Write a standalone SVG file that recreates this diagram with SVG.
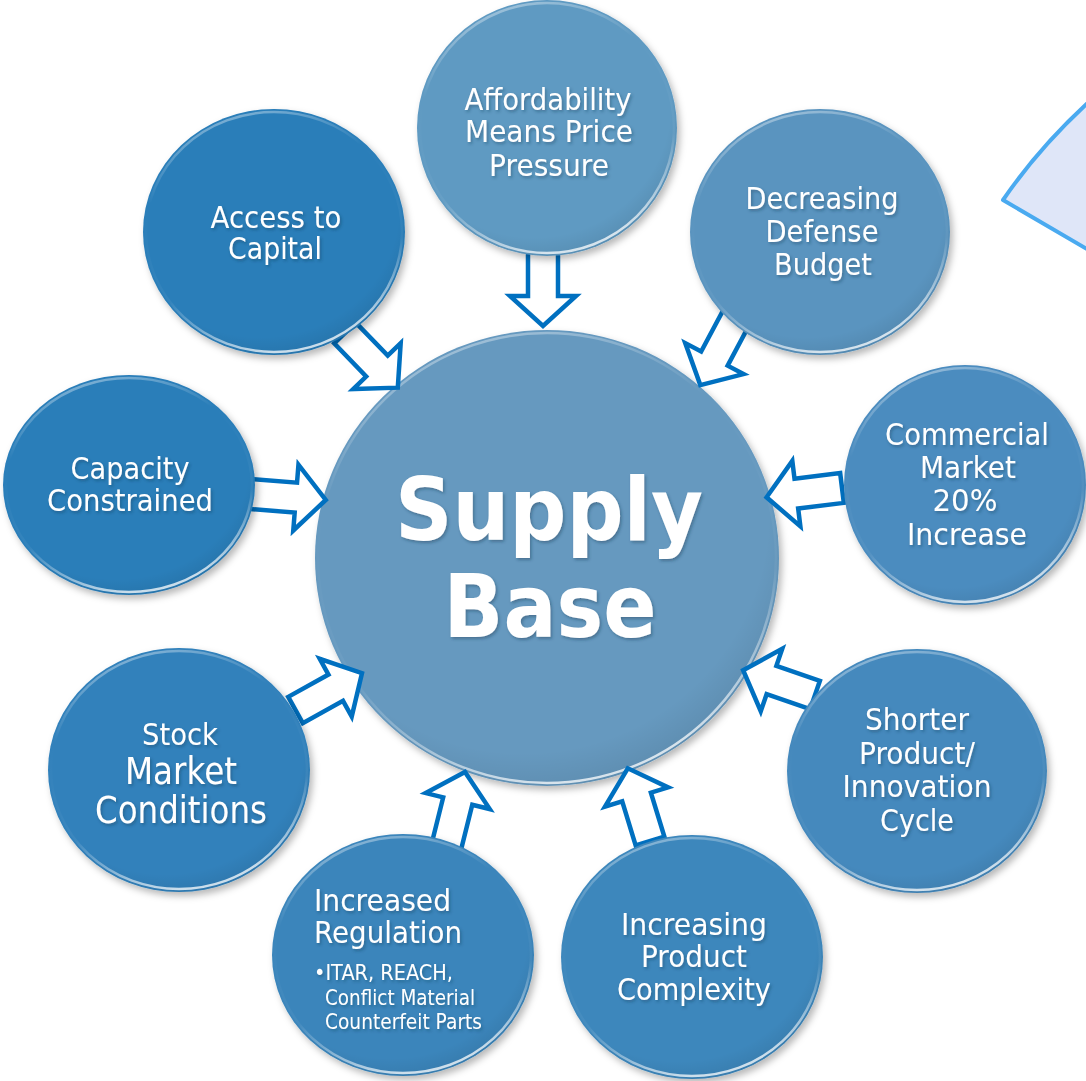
<svg xmlns="http://www.w3.org/2000/svg" width="1086" height="1081" viewBox="0 0 1086 1081">
<defs>
<style>
.lbl{font-family:"DejaVu Sans","Liberation Sans",sans-serif;fill:#ffffff;text-anchor:middle;filter:url(#ts)}
.lft{text-anchor:start}
.arrow{fill:#ffffff;stroke:#0070c0;stroke-width:4.5;stroke-linejoin:miter}
.rim{fill:none;stroke:url(#rimg);stroke-width:2.5}
</style>
<filter id="ds" x="-20%" y="-20%" width="140%" height="140%">
<feDropShadow dx="3" dy="4" stdDeviation="3.5" flood-color="#000" flood-opacity="0.28"/>
</filter>
<filter id="ts" x="-10%" y="-20%" width="120%" height="150%">
<feDropShadow dx="1.5" dy="2" stdDeviation="1.5" flood-color="#1a3550" flood-opacity="0.4"/>
</filter>
<linearGradient id="rimg" x1="0.2" y1="0" x2="0.5" y2="1">
<stop offset="0" stop-color="#ffffff" stop-opacity="0.45"/>
<stop offset="0.3" stop-color="#ffffff" stop-opacity="0"/>
<stop offset="0.7" stop-color="#ffffff" stop-opacity="0.05"/>
<stop offset="1" stop-color="#ffffff" stop-opacity="0.75"/>
</linearGradient>
<radialGradient id="shade" cx="0.45" cy="0.4" r="0.62">
<stop offset="0.85" stop-color="#000" stop-opacity="0"/>
<stop offset="1" stop-color="#000" stop-opacity="0.08"/>
</radialGradient>
<polygon id="arr" points="0,-15 46,-15 46,-33 76,0 46,33 46,15 0,15"/>
</defs>
<rect width="1086" height="1081" fill="#ffffff"/>

<path d="M1003,200 Q1040,146 1092,99 L1092,252 Z" fill="#dfe6f8" stroke="#4aaaf0" stroke-width="4" stroke-linejoin="round"/>

<g id="supply-base">
<ellipse cx="547" cy="558" rx="232" ry="228" fill="#6699bf" filter="url(#ds)"/>
<ellipse cx="547" cy="558" rx="232" ry="228" fill="url(#shade)"/>
<ellipse cx="547" cy="558" rx="229" ry="225" class="rim"/>
<text class="lbl" font-size="88" font-weight="bold"><tspan x="549" y="540" textLength="308" lengthAdjust="spacingAndGlyphs">Supply</tspan><tspan x="550" y="637" textLength="213" lengthAdjust="spacingAndGlyphs">Base</tspan></text>
</g>

<g id="connectors">
<use href="#arr" class="arrow" transform="translate(543,250) rotate(90)"/>
<use href="#arr" class="arrow" transform="translate(345,333) rotate(46)"/>
<use href="#arr" class="arrow" transform="translate(736,318) rotate(118)"/>
<use href="#arr" class="arrow" transform="translate(250,494) rotate(4.5)"/>
<use href="#arr" class="arrow" transform="translate(842,488) rotate(173)"/>
<use href="#arr" class="arrow" transform="translate(295.5,710) rotate(-29)"/>
<use href="#arr" class="arrow" transform="translate(815,695) rotate(199)"/>
<use href="#arr" class="arrow" transform="translate(446.6,845.7) rotate(-76)"/>
<use href="#arr" class="arrow" transform="translate(650,841) rotate(-107)"/>
</g>

<g id="affordability">
<ellipse cx="547" cy="128" rx="130" ry="128" fill="#5f9ac2" filter="url(#ds)"/>
<ellipse cx="547" cy="128" rx="130" ry="128" fill="url(#shade)"/>
<ellipse cx="547" cy="128" rx="127" ry="125" class="rim"/>
<text class="lbl" font-size="31"><tspan x="548" y="110" textLength="167" lengthAdjust="spacingAndGlyphs">Affordability</tspan><tspan x="549" y="142" textLength="168" lengthAdjust="spacingAndGlyphs">Means Price</tspan><tspan x="549" y="176" textLength="120" lengthAdjust="spacingAndGlyphs">Pressure</tspan></text>
</g>

<g id="access-to-capital">
<ellipse cx="274" cy="232" rx="131" ry="123" fill="#2a7eb9" filter="url(#ds)"/>
<ellipse cx="274" cy="232" rx="131" ry="123" fill="url(#shade)"/>
<ellipse cx="274" cy="232" rx="128" ry="120" class="rim"/>
<text class="lbl" font-size="31"><tspan x="276" y="228" textLength="131" lengthAdjust="spacingAndGlyphs">Access to</tspan><tspan x="275" y="259" textLength="94" lengthAdjust="spacingAndGlyphs">Capital</tspan></text>
</g>

<g id="decreasing-defense-budget">
<ellipse cx="820" cy="232" rx="130" ry="123" fill="#5a94bf" filter="url(#ds)"/>
<ellipse cx="820" cy="232" rx="130" ry="123" fill="url(#shade)"/>
<ellipse cx="820" cy="232" rx="127" ry="120" class="rim"/>
<text class="lbl" font-size="31"><tspan x="822" y="209" textLength="153" lengthAdjust="spacingAndGlyphs">Decreasing</tspan><tspan x="822" y="242" textLength="113" lengthAdjust="spacingAndGlyphs">Defense</tspan><tspan x="823" y="275" textLength="98" lengthAdjust="spacingAndGlyphs">Budget</tspan></text>
</g>

<g id="capacity-constrained">
<ellipse cx="129" cy="485" rx="126" ry="110" fill="#2b7eb9" filter="url(#ds)"/>
<ellipse cx="129" cy="485" rx="126" ry="110" fill="url(#shade)"/>
<ellipse cx="129" cy="485" rx="123" ry="107" class="rim"/>
<text class="lbl" font-size="31"><tspan x="130" y="479" textLength="119" lengthAdjust="spacingAndGlyphs">Capacity</tspan><tspan x="130" y="511" textLength="166" lengthAdjust="spacingAndGlyphs">Constrained</tspan></text>
</g>

<g id="commercial-market">
<ellipse cx="965" cy="485" rx="121" ry="120" fill="#4c8cbf" filter="url(#ds)"/>
<ellipse cx="965" cy="485" rx="121" ry="120" fill="url(#shade)"/>
<ellipse cx="965" cy="485" rx="118" ry="117" class="rim"/>
<text class="lbl" font-size="31"><tspan x="967" y="445" textLength="164" lengthAdjust="spacingAndGlyphs">Commercial</tspan><tspan x="968" y="478" textLength="96" lengthAdjust="spacingAndGlyphs">Market</tspan><tspan x="965" y="511" textLength="65" lengthAdjust="spacingAndGlyphs">20%</tspan><tspan x="967" y="545" textLength="120" lengthAdjust="spacingAndGlyphs">Increase</tspan></text>
</g>

<g id="stock-market-conditions">
<ellipse cx="179" cy="770" rx="131" ry="122" fill="#3181bb" filter="url(#ds)"/>
<ellipse cx="179" cy="770" rx="131" ry="122" fill="url(#shade)"/>
<ellipse cx="179" cy="770" rx="128" ry="119" class="rim"/>
<text class="lbl" font-size="31"><tspan x="180" y="745" textLength="76" lengthAdjust="spacingAndGlyphs">Stock</tspan></text>
<text class="lbl" font-size="37"><tspan x="181" y="784" textLength="112" lengthAdjust="spacingAndGlyphs">Market</tspan><tspan x="181" y="823" textLength="172" lengthAdjust="spacingAndGlyphs">Conditions</tspan></text>
</g>

<g id="shorter-product-cycle">
<ellipse cx="917" cy="771" rx="130" ry="122" fill="#4489bd" filter="url(#ds)"/>
<ellipse cx="917" cy="771" rx="130" ry="122" fill="url(#shade)"/>
<ellipse cx="917" cy="771" rx="127" ry="119" class="rim"/>
<text class="lbl" font-size="31"><tspan x="917" y="730" textLength="104" lengthAdjust="spacingAndGlyphs">Shorter</tspan><tspan x="917" y="764" textLength="116" lengthAdjust="spacingAndGlyphs">Product/</tspan><tspan x="917" y="797" textLength="149" lengthAdjust="spacingAndGlyphs">Innovation</tspan><tspan x="917" y="831" textLength="74" lengthAdjust="spacingAndGlyphs">Cycle</tspan></text>
</g>

<g id="increased-regulation">
<ellipse cx="403" cy="955" rx="131" ry="121" fill="#3a85bb" filter="url(#ds)"/>
<ellipse cx="403" cy="955" rx="131" ry="121" fill="url(#shade)"/>
<ellipse cx="403" cy="955" rx="128" ry="118" class="rim"/>
<text class="lbl lft" font-size="31"><tspan x="314" y="911" textLength="137" lengthAdjust="spacingAndGlyphs">Increased</tspan><tspan x="314" y="943" textLength="148" lengthAdjust="spacingAndGlyphs">Regulation</tspan></text>
<text class="lbl lft" font-size="21"><tspan x="314" y="980" textLength="139" lengthAdjust="spacingAndGlyphs">•ITAR, REACH,</tspan><tspan x="325" y="1005" textLength="150" lengthAdjust="spacingAndGlyphs">Conflict Material</tspan><tspan x="325" y="1029" textLength="157" lengthAdjust="spacingAndGlyphs">Counterfeit Parts</tspan></text>
</g>

<g id="increasing-product-complexity">
<ellipse cx="692" cy="957" rx="131" ry="122" fill="#3e87bc" filter="url(#ds)"/>
<ellipse cx="692" cy="957" rx="131" ry="122" fill="url(#shade)"/>
<ellipse cx="692" cy="957" rx="128" ry="119" class="rim"/>
<text class="lbl" font-size="31"><tspan x="694" y="935" textLength="146" lengthAdjust="spacingAndGlyphs">Increasing</tspan><tspan x="694" y="967" textLength="106" lengthAdjust="spacingAndGlyphs">Product</tspan><tspan x="694" y="1000" textLength="154" lengthAdjust="spacingAndGlyphs">Complexity</tspan></text>
</g>
</svg>
